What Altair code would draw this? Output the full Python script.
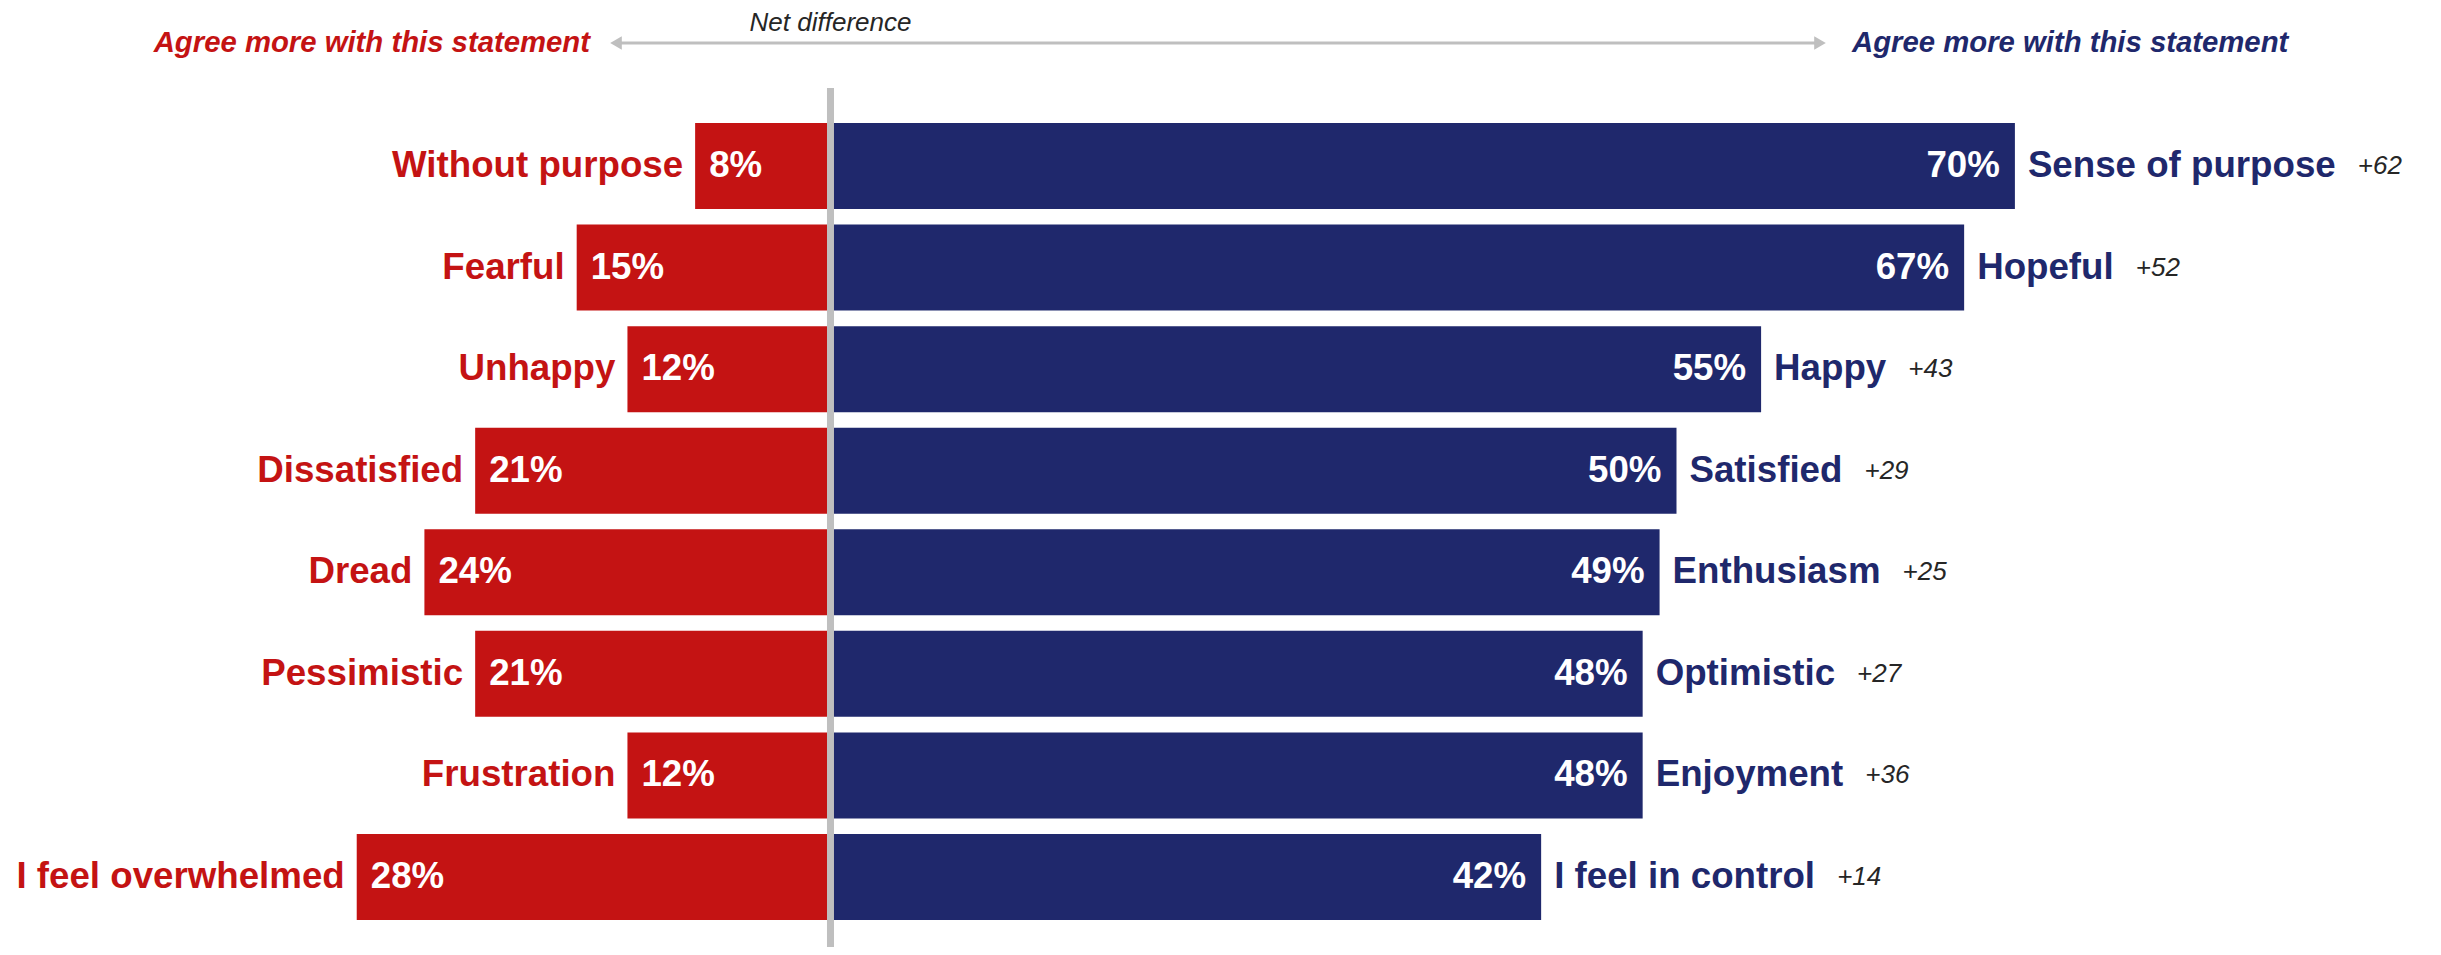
import altair as alt
import pandas as pd

# ---- data ----
neg_labels = ["Without purpose", "Fearful", "Unhappy", "Dissatisfied", "Dread",
              "Pessimistic", "Frustration", "I feel overwhelmed"]
pos_labels = ["Sense of purpose", "Hopeful", "Happy", "Satisfied", "Enthusiasm",
              "Optimistic", "Enjoyment", "I feel in control"]
neg_values = [8, 15, 12, 21, 24, 21, 12, 28]
pos_values = [70, 67, 55, 50, 49, 48, 48, 42]
net_values = [62, 52, 43, 29, 25, 27, 36, 14]

RED = "#C41313"
NAVY = "#1F286C"
GRAY = "#BFBFBF"
DARK = "#262626"
FONT = "Liberation Sans"
LABEL_SIZE = 36.7

X_MIN, X_MAX = -48.61, 94.71
PLOT_W, PLOT_H = 2425, 797
PX_PER_UNIT = PLOT_W / (X_MAX - X_MIN)

# Arial/Liberation Sans Bold advance widths (per 1000 em) to place the net figure after the label
_W = {" ": 278, "%": 889, "+": 584}
_W.update({c: 556 for c in "0123456789"})
_W.update(dict(zip("ABCDEFGHIJKLMNOPQRSTUVWXYZ",
                   [722, 722, 722, 722, 667, 611, 778, 722, 278, 556, 722, 611, 833,
                    722, 778, 667, 778, 722, 667, 611, 722, 667, 944, 667, 667, 611])))
_W.update(dict(zip("abcdefghijklmnopqrstuvwxyz",
                   [556, 611, 556, 611, 556, 333, 611, 611, 278, 278, 556, 278, 889,
                    611, 611, 611, 611, 389, 556, 333, 611, 556, 778, 556, 556, 500])))


def text_width(s, size):
    return sum(_W.get(ch, 556) for ch in s) / 1000.0 * size


df = pd.DataFrame({
    "order": list(range(len(neg_labels))),
    "neg_label": neg_labels,
    "pos_label": pos_labels,
    "neg": neg_values,
    "pos": pos_values,
    "net": [f"+{v}" for v in net_values],
})
df["neg_x"] = -df["neg"]
df["zero"] = 0
df["neg_pct"] = df["neg"].astype(str) + "%"
df["pos_pct"] = df["pos"].astype(str) + "%"
# net figure sits after the positive label: bar end + label gap + label width + gap
df["net_x"] = [p + (13 + text_width(s, LABEL_SIZE) + 22) / PX_PER_UNIT
               for p, s in zip(pos_values, pos_labels)]

xscale = alt.Scale(domain=[X_MIN, X_MAX], nice=False, zero=False)
yenc = alt.Y("order:O", axis=None,
             scale=alt.Scale(paddingInner=0.153, paddingOuter=0))

base = alt.Chart(df)

red_bars = base.mark_bar(color=RED).encode(
    x=alt.X("neg_x:Q", scale=xscale, axis=None), x2="zero:Q", y=yenc)
blue_bars = base.mark_bar(color=NAVY).encode(
    x=alt.X("zero:Q", scale=xscale, axis=None), x2="pos:Q", y=yenc)

center = alt.Chart(pd.DataFrame({"zero": [0]})).mark_rule(color=GRAY, strokeWidth=7).encode(
    x=alt.X("zero:Q", scale=xscale, axis=None), y=alt.value(-35), y2=alt.value(850))

neg_lab = base.mark_text(align="right", baseline="middle", dx=-12, font=FONT,
                         fontWeight="bold", fontSize=LABEL_SIZE, color=RED).encode(
    x=alt.X("neg_x:Q", scale=xscale, axis=None), y=yenc, text="neg_label:N")
neg_pct = base.mark_text(align="left", baseline="middle", dx=14, font=FONT,
                         fontWeight="bold", fontSize=LABEL_SIZE, color="white").encode(
    x=alt.X("neg_x:Q", scale=xscale, axis=None), y=yenc, text="neg_pct:N")
pos_pct = base.mark_text(align="right", baseline="middle", dx=-15, font=FONT,
                         fontWeight="bold", fontSize=LABEL_SIZE, color="white").encode(
    x=alt.X("pos:Q", scale=xscale, axis=None), y=yenc, text="pos_pct:N")
pos_lab = base.mark_text(align="left", baseline="middle", dx=13, font=FONT,
                         fontWeight="bold", fontSize=LABEL_SIZE, color=NAVY).encode(
    x=alt.X("pos:Q", scale=xscale, axis=None), y=yenc, text="pos_label:N")
net_lab = base.mark_text(align="left", baseline="middle", font=FONT, fontStyle="italic",
                         fontSize=26, color=DARK).encode(
    x=alt.X("net_x:Q", scale=xscale, axis=None), y=yenc, text="net:N")

# ---- header annotations ----
hdr = pd.DataFrame({"t": ["Agree more with this statement"]})
left_hdr = alt.Chart(hdr).mark_text(align="right", baseline="middle", font=FONT,
                                    fontWeight="bold", fontStyle="italic", fontSize=29.3,
                                    color=RED).encode(
    x=alt.value(582), y=alt.value(-80), text="t:N")
right_hdr = alt.Chart(hdr).mark_text(align="left", baseline="middle", font=FONT,
                                     fontWeight="bold", fontStyle="italic", fontSize=29.3,
                                     color=NAVY).encode(
    x=alt.value(1844), y=alt.value(-80), text="t:N")
net_hdr = alt.Chart(pd.DataFrame({"t": ["Net difference"], "zero": [0]})).mark_text(
    align="center", baseline="middle", font=FONT, fontStyle="italic", fontSize=26,
    color=DARK).encode(x=alt.X("zero:Q", scale=xscale, axis=None), y=alt.value(-100), text="t:N")

arrow_line = alt.Chart(pd.DataFrame({"a": [0]})).mark_rule(color=GRAY, strokeWidth=3).encode(
    x=alt.value(606), x2=alt.value(1814), y=alt.value(-80))
arrow_l = alt.Chart(pd.DataFrame({"a": [0]})).mark_point(
    shape="triangle-left", filled=True, color=GRAY, size=180, opacity=1).encode(
    x=alt.value(608), y=alt.value(-80))
arrow_r = alt.Chart(pd.DataFrame({"a": [0]})).mark_point(
    shape="triangle-right", filled=True, color=GRAY, size=180, opacity=1).encode(
    x=alt.value(1812), y=alt.value(-80))

chart = alt.layer(
    red_bars, blue_bars, center, neg_lab, neg_pct, pos_pct, pos_lab, net_lab,
    arrow_line, arrow_l, arrow_r, left_hdr, right_hdr, net_hdr
).properties(
    width=PLOT_W, height=PLOT_H,
    padding={"left": 0, "top": 115, "right": 0, "bottom": 27},
    autosize=alt.AutoSizeParams(type="none"),
    background="white",
).configure_view(stroke=None)

chart.save("out.html", embed_options={"renderer": "svg", "actions": False})
